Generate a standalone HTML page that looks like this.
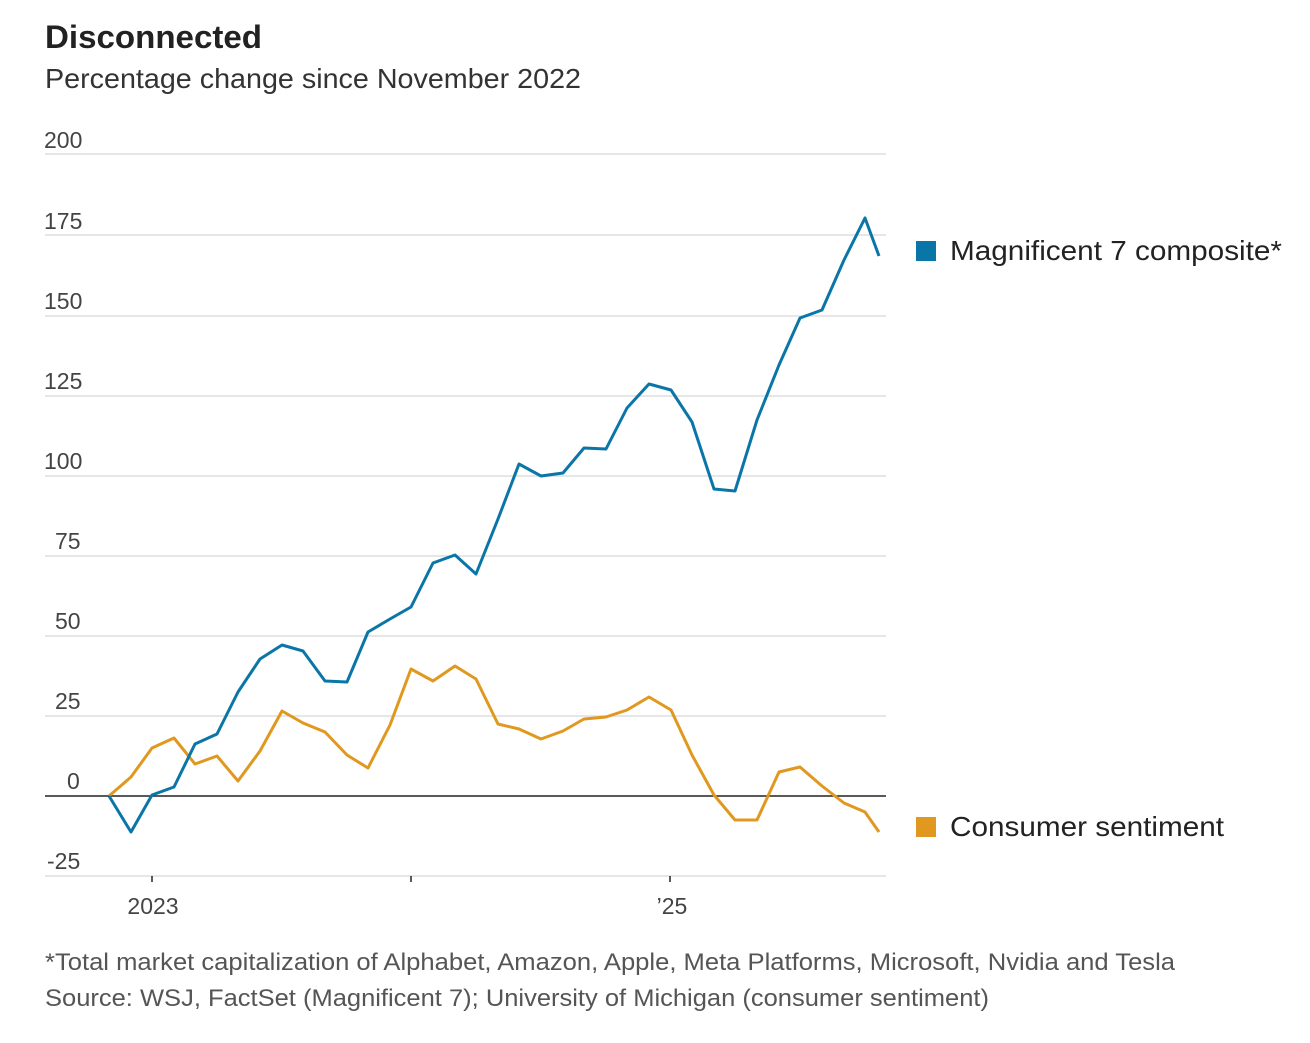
<!DOCTYPE html>
<html><head><meta charset="utf-8"><style>
body{margin:0;background:#fff;width:1310px;height:1038px;overflow:hidden;font-family:"Liberation Sans",sans-serif;}
</style></head><body>
<svg width="1310" height="1038" xmlns="http://www.w3.org/2000/svg" font-family="Liberation Sans, sans-serif">
<text x="45" y="48" font-size="32" font-weight="bold" fill="#222" textLength="217" lengthAdjust="spacingAndGlyphs">Disconnected</text>
<text x="45" y="88" font-size="28" fill="#333" textLength="536" lengthAdjust="spacingAndGlyphs">Percentage change since November 2022</text>
<g stroke="#ddd" stroke-width="1.5">
<line x1="45" x2="886" y1="154" y2="154"/><line x1="45" x2="886" y1="235" y2="235"/>
<line x1="45" x2="886" y1="316" y2="316"/><line x1="45" x2="886" y1="396" y2="396"/>
<line x1="45" x2="886" y1="476" y2="476"/><line x1="45" x2="886" y1="556" y2="556"/>
<line x1="45" x2="886" y1="636" y2="636"/><line x1="45" x2="886" y1="716" y2="716"/>
<line x1="45" x2="886" y1="876" y2="876"/>
</g>
<line x1="45" x2="886" y1="796" y2="796" stroke="#222" stroke-width="1.5"/>
<g stroke="#222" stroke-width="1.5"><line x1="152" x2="152" y1="876" y2="882"/><line x1="411" x2="411" y1="876" y2="882"/><line x1="670" x2="670" y1="876" y2="882"/></g>
<g font-size="23" fill="#444">
<text x="44" y="148">200</text><text x="44" y="229">175</text><text x="44" y="309">150</text>
<text x="44" y="389">125</text><text x="44" y="469">100</text><text x="55" y="549">75</text>
<text x="55" y="629">50</text><text x="55" y="709">25</text><text x="67" y="789">0</text>
<text x="47" y="869">-25</text>
<text x="153" y="914" text-anchor="middle">2023</text><text x="672" y="914" text-anchor="middle">’25</text>
</g>
<polyline fill="none" stroke="#e0981f" stroke-width="3" stroke-linejoin="round" points="109,796 131,777 152,748 174,738 195,764 217,756 238,781 260,751 282,711 303,723 325,732 347,755 368,768 390,725 411,669 433,681 455,666 476,679 498,724 519,729 541,739 563,731 584,719 606,717 627,710 649,697 671,710 692,755 714,795 735,820 757,820 779,772 800,767 822,786 844,803 865,812 879,832"/>
<polyline fill="none" stroke="#0a76a8" stroke-width="3" stroke-linejoin="round" points="109,796 131,832 152,795 174,787 195,744 217,734 238,692 260,659 282,645 303,651 325,681 347,682 368,632 390,619 411,607 433,563 455,555 476,574 498,519 519,464 541,476 563,473 584,448 606,449 627,408 649,384 671,390 692,422 714,489 735,491 757,420 779,365 800,318 822,310 844,260 865,218 879,256"/>
<rect x="916" y="241" width="20" height="20" fill="#0a76a8"/>
<text x="950" y="260" font-size="28" fill="#222" textLength="332" lengthAdjust="spacingAndGlyphs">Magnificent 7 composite*</text>
<rect x="916" y="817" width="20" height="20" fill="#e0981f"/>
<text x="950" y="836" font-size="28" fill="#222" textLength="274" lengthAdjust="spacingAndGlyphs">Consumer sentiment</text>
<text x="45" y="970" font-size="24" fill="#555" textLength="1130" lengthAdjust="spacingAndGlyphs">*Total market capitalization of Alphabet, Amazon, Apple, Meta Platforms, Microsoft, Nvidia and Tesla</text>
<text x="45" y="1006" font-size="24" fill="#555" textLength="944" lengthAdjust="spacingAndGlyphs">Source: WSJ, FactSet (Magnificent 7); University of Michigan (consumer sentiment)</text>
</svg>
</body></html>
